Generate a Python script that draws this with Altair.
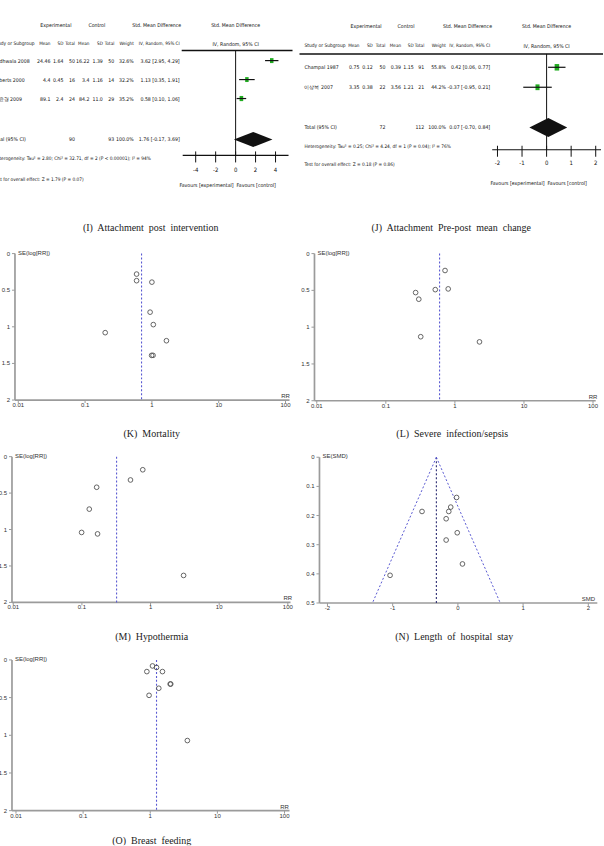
import math
import altair as alt
import pandas as pd

TABLE_FONT = "Liberation Sans Narrow, DejaVu Sans Condensed, Liberation Sans, Arial, sans-serif"
AXIS_FONT = "Liberation Sans, Arial, sans-serif"
CAPTION_FONT = "Liberation Serif, Times New Roman, serif"
INK = "#111111"
GREEN = "#21ad21"
AXIS_GREY = "#9b9b9b"
LABEL_GREY = "#333333"
DASH_BLUE = "#5a5ad2"
NAVY = "#2c2c72"
TABLE_SIZE = 5.2

# ---------- (I) Attachment post intervention ----------
i_study = ["Badhwala 2008", "Roberts 2000", "이윤경 2009"]
i_exp_mean = [24.46, 4.4, 89.1]
i_exp_sd = [1.64, 0.45, 2.4]
i_exp_n = [50, 16, 24]
i_ctl_mean = [16.22, 3.4, 84.2]
i_ctl_sd = [1.39, 1.16, 11.0]
i_ctl_n = [50, 14, 29]
i_weight = [32.6, 32.2, 35.2]
i_smd = [3.62, 1.13, 0.58]
i_lo = [2.95, 0.35, 0.10]
i_hi = [4.29, 1.91, 1.06]
i_total_n = [90, 93]
i_total_est = [1.76, -0.17, 3.69]
i_het = "Heterogeneity: Tau² = 2.80; Chi² = 32.71, df = 2 (P < 0.00001); I² = 94%"
i_test = "Test for overall effect: Z = 1.79 (P = 0.07)"
i_ticks = [-4, -2, 0, 2, 4]

# ---------- (J) Attachment pre-post mean change ----------
j_study = ["Champal 1987", "이상복 2007"]
j_exp_mean = [0.75, 3.35]
j_exp_sd = [0.12, 0.38]
j_exp_n = [50, 22]
j_ctl_mean = [0.39, 3.56]
j_ctl_sd = [1.15, 1.21]
j_ctl_n = [91, 21]
j_weight = [55.8, 44.2]
j_smd = [0.42, -0.37]
j_lo = [0.06, -0.95]
j_hi = [0.77, 0.21]
j_total_n = [72, 112]
j_total_est = [0.07, -0.70, 0.84]
j_het = "Heterogeneity: Tau² = 0.25; Chi² = 4.24, df = 1 (P = 0.04); I² = 76%"
j_test = "Test for overall effect: Z = 0.18 (P = 0.86)"
j_ticks = [-2, -1, 0, 1, 2]

# ---------- funnel plots ----------
k_rr = [0.59, 0.59, 1.00, 0.94, 1.05, 0.20, 1.65, 0.99, 1.04]
k_se = [0.28, 0.37, 0.39, 0.80, 0.97, 1.08, 1.19, 1.39, 1.39]
k_pooled = 0.70

l_rr = [0.72, 0.27, 0.52, 0.80, 0.30, 0.32, 2.27]
l_se = [0.23, 0.53, 0.49, 0.48, 0.62, 1.13, 1.20]
l_pooled = 0.60

m_rr = [0.77, 0.51, 0.164, 0.128, 0.099, 0.169, 3.03]
m_se = [0.18, 0.32, 0.42, 0.72, 1.04, 1.06, 1.63]
m_pooled = 0.32

n_smd = [-0.02, -0.11, -0.14, -0.55, -0.18, -0.01, -0.18, 0.07, -1.04]
n_se = [0.138, 0.171, 0.186, 0.186, 0.211, 0.259, 0.284, 0.366, 0.405]
n_pooled = -0.33

o_rr = [1.08, 1.24, 0.89, 1.52, 1.98, 2.02, 1.34, 0.96, 3.57]
o_se = [0.08, 0.10, 0.155, 0.155, 0.32, 0.32, 0.376, 0.47, 1.07]
o_pooled = 1.24

rr_ticks = [0.01, 0.1, 1, 10, 100]
rr_tick_labels = ["0.01", "0.1", "1", "10", "100"]
se_rr_ticks = [0, 0.5, 1, 1.5, 2]
se_rr_tick_labels = ["0", "0.5", "1", "1.5", "2"]
smd_ticks = [-2, -1, 0, 1, 2]
smd_tick_labels = ["-2", "-1", "0", "1", "2"]
se_smd_ticks = [0, 0.1, 0.2, 0.3, 0.4, 0.5]
se_smd_tick_labels = ["0", "0.1", "0.2", "0.3", "0.4", "0.5"]


# ---------- helpers ----------
def linear_inverse(v1, p1, v2, p2):
    a = (p2 - p1) / (v2 - v1)
    return lambda p: v1 + (p - p1) / a


def log_inverse(v1, p1, v2, p2):
    l1, l2 = math.log10(v1), math.log10(v2)
    a = (p2 - p1) / (l2 - l1)
    return lambda p: 10 ** (l1 + (p - p1) / a)


def text_layer(frame, xs, ys, align="center", baseline="middle", size=TABLE_SIZE,
               font=TABLE_FONT, color=INK, dx=0, dy=0):
    return alt.Chart(frame).mark_text(
        align=align, baseline=baseline, fontSize=size, font=font, color=color,
        dx=dx, dy=dy, clip=True,
    ).encode(
        x=alt.X("x:Q", scale=xs, axis=None),
        y=alt.Y("y:Q", scale=ys, axis=None),
        text="text:N",
    )


def rule_layer(frame, xs, ys, color=INK, width=1.0, dash=None):
    kw = dict(color=color, strokeWidth=width)
    if dash:
        kw["strokeDash"] = dash
    enc = dict(x=alt.X("x:Q", scale=xs, axis=None), y=alt.Y("y:Q", scale=ys, axis=None))
    if "x2" in frame.columns:
        enc["x2"] = "x2:Q"
    if "y2" in frame.columns:
        enc["y2"] = "y2:Q"
    return alt.Chart(frame).mark_rule(**kw).encode(**enc)


def cells(rows):
    return pd.DataFrame(rows, columns=["x", "y", "text"])


def forest_panel(d, geo, caption):
    W, H = geo["W"], geo["H"]
    row_of = linear_inverse(1, geo["row1"], 2, geo["row1"] + geo["dy"])
    smd_of = linear_inverse(0, geo["zero"], 1, geo["zero"] + geo["unit"])
    ys = alt.Scale(domain=[row_of(0), row_of(H)], reverse=True, nice=False, zero=False)
    xt = alt.Scale(domain=[0, W], nice=False, zero=False)
    xs = alt.Scale(domain=[smd_of(0), smd_of(W)], nice=False, zero=False)
    R = {k: row_of(p) for k, p in geo["rows"].items()}
    rows_per_px = 1.0 / geo["dy"]

    n = len(d["study"])
    cols = geo["cols"]
    left, right, center = [], [], []
    center += [(geo["exp_c"], R["h1"], "Experimental"),
               (geo["ctl_c"], R["h1"], "Control"),
               (geo["est_c"], R["h1"], "Std. Mean Difference")]
    head_left = [(geo["name_x"], R["h2"], "Study or Subgroup")]
    head_right = []
    for xpos, lab in zip(cols, ["Mean", "SD", "Total", "Mean", "SD", "Total",
                                "Weight", "IV, Random, 95% CI"]):
        head_right.append((xpos, R["h2"], lab))
    for i in range(n):
        r = i + 1
        left.append((geo["name_x"], r, d["study"][i]))
        vals = [str(d["exp_mean"][i]), str(d["exp_sd"][i]), str(d["exp_n"][i]),
                str(d["ctl_mean"][i]), str(d["ctl_sd"][i]), str(d["ctl_n"][i]),
                f"{d['weight'][i]:.1f}%",
                f"{d['smd'][i]:.2f} [{d['lo'][i]:.2f}, {d['hi'][i]:.2f}]"]
        for xpos, v in zip(cols, vals):
            right.append((xpos, r, v))
    est, lo, hi = d["total_est"]
    left.append((geo["name_x"], R["total"], "Total (95% CI)"))
    right += [(cols[2], R["total"], str(d["total_n"][0])),
              (cols[5], R["total"], str(d["total_n"][1])),
              (cols[6], R["total"], "100.0%"),
              (cols[7], R["total"], f"{est:.2f} [{lo:.2f}, {hi:.2f}]")]
    notes = [(geo["name_x"], R["het"], d["het"]), (geo["name_x"], R["test"], d["test"])]

    layers = [
        text_layer(cells(left), xt, ys, align="left"),
        text_layer(cells(right), xt, ys, align="right"),
        text_layer(cells(center), xt, ys, align="center"),
        text_layer(cells(head_left), xt, ys, align="left", size=TABLE_SIZE - 0.3),
        text_layer(cells(head_right), xt, ys, align="right", size=TABLE_SIZE - 0.6),
        text_layer(cells(notes), xt, ys, align="left", size=TABLE_SIZE - 0.4),
        text_layer(cells([(0, R["h1"], "Std. Mean Difference"),
                          (0, R["h2"], "IV, Random, 95% CI")]), xs, ys),
        rule_layer(pd.DataFrame({"x": [geo["rule_from"]], "x2": [geo["rule_to"]],
                                 "y": [R["rule"]]}), xt, ys, width=1.5),
        rule_layer(pd.DataFrame({"x": [0], "y": [R["rule"]], "y2": [R["axis"]]}), xs, ys, width=1),
    ]

    studies = pd.DataFrame({"row": list(range(1, n + 1)), "smd": d["smd"], "lo": d["lo"],
                            "hi": d["hi"], "weight": d["weight"]})
    layers.append(alt.Chart(studies).mark_point(
        shape="M-0.7,-1L0.7,-1L0.7,1L-0.7,1Z", filled=True, color=GREEN, opacity=1,
    ).encode(
        x=alt.X("smd:Q", scale=xs, axis=None),
        y=alt.Y("row:Q", scale=ys, axis=None),
        size=alt.Size("weight:Q", scale=alt.Scale(domain=[0, 100], range=[0, geo["box_max"]]),
                      legend=None),
    ))
    layers.append(alt.Chart(studies).mark_rule(color=INK, strokeWidth=1.2).encode(
        x=alt.X("lo:Q", scale=xs, axis=None), x2="hi:Q",
        y=alt.Y("row:Q", scale=ys, axis=None),
    ))

    half = geo["diamond_half"] * rows_per_px
    diamond = pd.DataFrame({"x": [lo, est, hi],
                            "y": [R["total"], R["total"] - half, R["total"]],
                            "y2": [R["total"], R["total"] + half, R["total"]]})
    layers.append(alt.Chart(diamond).mark_area(color=INK, orient="vertical").encode(
        x=alt.X("x:Q", scale=xs, axis=None),
        y=alt.Y("y:Q", scale=ys, axis=None), y2="y2:Q",
    ))

    ticks = d["ticks"]
    ext = geo["axis_ext"]
    layers.append(rule_layer(pd.DataFrame({"x": [-ext], "x2": [ext], "y": [R["axis"]]}),
                             xs, ys, width=1.2))
    layers.append(rule_layer(pd.DataFrame({
        "x": ticks, "y": [R["axis"] - 4 * rows_per_px] * len(ticks),
        "y2": [R["axis"] + 7 * rows_per_px] * len(ticks)}), xs, ys, width=1))
    layers.append(text_layer(cells([(t, R["ticklab"], str(t)) for t in ticks]), xs, ys,
                             size=6))
    layers.append(text_layer(cells([(0, R["fav"], "Favours [experimental]")]), xs, ys,
                             align="right", dx=-2))
    layers.append(text_layer(cells([(0, R["fav"], "Favours [control]")]), xs, ys,
                             align="left", dx=1))
    layers.append(text_layer(cells([(geo["cap_x"], R["caption"], caption)]), xt, ys,
                             size=10, font=CAPTION_FONT, color="#222222"))

    return alt.layer(*layers).resolve_scale(x="independent").properties(width=W, height=H)


def funnel_panel(xv, se, pooled, geo, caption, log=True, xticks=rr_ticks,
                 xlabels=rr_tick_labels, yticks=se_rr_ticks, ylabels=se_rr_tick_labels,
                 xtitle="RR", ytitle="SE(log[RR])", cone=False):
    W, H = geo["W"], geo["H"]
    x_of = (log_inverse if log else linear_inverse)(*geo["x_ref"])
    y_of = linear_inverse(*geo["y_ref"])
    xs = alt.Scale(type="log" if log else "linear", domain=[x_of(0), x_of(W)],
                   nice=False, zero=False)
    ys = alt.Scale(domain=[y_of(0), y_of(H)], reverse=True, nice=False, zero=False)
    x_axis = x_of(geo["yaxis_px"])
    x_end = x_of(geo["xend_px"])
    top, se_max = yticks[0], yticks[-1]

    layers = [
        rule_layer(pd.DataFrame({"x": [x_axis], "y": [top], "y2": [se_max]}), xs, ys,
                   color=AXIS_GREY, width=1.7),
        rule_layer(pd.DataFrame({"x": [x_axis], "x2": [x_end], "y": [se_max]}), xs, ys,
                   color=AXIS_GREY, width=1.7),
        alt.Chart(pd.DataFrame({"x": [x_axis] * len(yticks), "y": yticks})).mark_point(
            shape="M-1,0L0,0", filled=False, color=AXIS_GREY, strokeWidth=1, size=36, opacity=1,
        ).encode(x=alt.X("x:Q", scale=xs, axis=None), y=alt.Y("y:Q", scale=ys, axis=None)),
        alt.Chart(pd.DataFrame({"x": xticks, "y": [se_max] * len(xticks)})).mark_point(
            shape="M0,0L0,1", filled=False, color=AXIS_GREY, strokeWidth=1, size=36, opacity=1,
        ).encode(x=alt.X("x:Q", scale=xs, axis=None), y=alt.Y("y:Q", scale=ys, axis=None)),
        text_layer(cells([(x_axis, v, s) for v, s in zip(yticks, ylabels)]), xs, ys,
                   align="right", size=6, font=AXIS_FONT, color=LABEL_GREY, dx=-5),
        text_layer(cells([(v, se_max, s) for v, s in zip(xticks, xlabels)]), xs, ys,
                   baseline="top", size=6, font=AXIS_FONT, color=LABEL_GREY, dy=2),
        text_layer(cells([(x_axis, top, ytitle)]), xs, ys, align="left", size=6,
                   font=AXIS_FONT, color=LABEL_GREY, dx=3, dy=-1),
        text_layer(cells([(xticks[-1], se_max, xtitle)]), xs, ys, baseline="bottom", size=6,
                   font=AXIS_FONT, color=LABEL_GREY, dy=-1),
    ]
    layers.append(rule_layer(pd.DataFrame({"x": [pooled], "y": [top], "y2": [se_max]}), xs, ys,
                             color=NAVY if cone else DASH_BLUE, width=1.1, dash=[2, 2]))
    if cone:
        spread = 1.96 * se_max
        layers.append(rule_layer(pd.DataFrame({
            "x": [pooled, pooled], "x2": [pooled - spread, pooled + spread],
            "y": [top, top], "y2": [se_max, se_max]}), xs, ys, color=DASH_BLUE, width=1,
            dash=[2, 2]))
    layers.append(alt.Chart(pd.DataFrame({"x": xv, "y": se})).mark_point(
        shape="circle", filled=False, color="#555555", strokeWidth=0.9, size=22, opacity=1,
    ).encode(x=alt.X("x:Q", scale=xs, axis=None), y=alt.Y("y:Q", scale=ys, axis=None)))
    layers.append(text_layer(cells([(x_of(geo["cap"][0]), y_of(geo["cap"][1]), caption)]),
                             xs, ys, size=10, font=CAPTION_FONT, color="#222222"))
    return alt.layer(*layers).properties(width=W, height=H)


NB = "\u00a0"

i_data = dict(study=i_study, exp_mean=i_exp_mean, exp_sd=i_exp_sd, exp_n=i_exp_n,
              ctl_mean=i_ctl_mean, ctl_sd=i_ctl_sd, ctl_n=i_ctl_n, weight=i_weight,
              smd=i_smd, lo=i_lo, hi=i_hi, total_n=i_total_n, total_est=i_total_est,
              het=i_het, test=i_test, ticks=i_ticks)
j_data = dict(study=j_study, exp_mean=j_exp_mean, exp_sd=j_exp_sd, exp_n=j_exp_n,
              ctl_mean=j_ctl_mean, ctl_sd=j_ctl_sd, ctl_n=j_ctl_n, weight=j_weight,
              smd=j_smd, lo=j_lo, hi=j_hi, total_n=j_total_n, total_est=j_total_est,
              het=j_het, test=j_test, ticks=j_ticks)

i_geo = dict(W=300, H=240, row1=60, dy=19, zero=236, unit=10,
             rows=dict(h1=24, h2=43, rule=50, total=139, het=159, test=180, axis=155,
                       ticklab=170, fav=185, caption=228),
             name_x=-6.5, cols=[50.5, 63.5, 75, 89.5, 103, 114.5, 134, 180],
             exp_c=56, ctl_c=97, est_c=157, rule_from=182, rule_to=293,
             axis_ext=5.3, diamond_half=7.5, box_max=76, cap_x=151)
j_geo = dict(W=304, H=240, row1=66.7, dy=20, zero=247.5, unit=24.6,
             rows=dict(h1=25, h2=45.7, rule=53.3, total=127, het=146.7, test=164.3,
                       axis=149.3, ticklab=163, fav=182.7, caption=228),
             name_x=5, cols=[60, 73.3, 86, 101.7, 114.3, 125, 146.7, 191],
             exp_c=66.7, ctl_c=106.7, est_c=168.3, rule_from=0, rule_to=304,
             axis_ext=2.215, diamond_half=9.5, box_max=180, cap_x=152)

k_geo = dict(W=300, H=205, x_ref=(0.01, 18.3, 100, 286), y_ref=(0, 13.3, 2, 160),
             yaxis_px=15, xend_px=290, cap=(152, 194))
l_geo = dict(W=304, H=205, x_ref=(0.01, 17.3, 100, 294), y_ref=(0, 13.3, 2, 160.7),
             yaxis_px=15, xend_px=296.7, cap=(153, 194))
m_geo = dict(W=300, H=205, x_ref=(0.01, 13.3, 100, 288.3), y_ref=(0, 11.7, 2, 157.7),
             yaxis_px=12, xend_px=291, cap=(152, 192))
n_geo = dict(W=304, H=205, x_ref=(-2, 28, 2, 289.3), y_ref=(0, 12.3, 0.5, 158.3),
             yaxis_px=20, xend_px=298.3, cap=(155, 192))
o_geo = dict(W=300, H=196, x_ref=(0.01, 16, 100, 285), y_ref=(0, 10.3, 2, 161.3),
             yaxis_px=12, xend_px=290, cap=(152, 192))

panel_i = forest_panel(i_data, i_geo, f"(I){NB} Attachment{NB} post{NB} intervention")
panel_j = forest_panel(j_data, j_geo, f"(J){NB} Attachment{NB} Pre-post{NB} mean{NB} change")
panel_k = funnel_panel(k_rr, k_se, k_pooled, k_geo, f"(K){NB} Mortality")
panel_l = funnel_panel(l_rr, l_se, l_pooled, l_geo, f"(L){NB} Severe{NB} infection/sepsis")
panel_m = funnel_panel(m_rr, m_se, m_pooled, m_geo, f"(M){NB} Hypothermia")
panel_n = funnel_panel(n_smd, n_se, n_pooled, n_geo,
                       f"(N){NB} Length{NB} of{NB} hospital{NB} stay", log=False,
                       xticks=smd_ticks, xlabels=smd_tick_labels, yticks=se_smd_ticks,
                       ylabels=se_smd_tick_labels, xtitle="SMD", ytitle="SE(SMD)", cone=True)
panel_o = funnel_panel(o_rr, o_se, o_pooled, o_geo, f"(O){NB} Breast{NB} feeding")

# Two-column grid; flush bounds place every panel by its own width/height only.
chart = alt.concat(
    panel_i, panel_j, panel_k, panel_l, panel_m, panel_n, panel_o,
    columns=2, spacing=0, bounds="flush",
).properties(padding=0, background="white").configure_view(stroke=None)

chart.save("out.html", embed_options={"renderer": "svg", "actions": False})
